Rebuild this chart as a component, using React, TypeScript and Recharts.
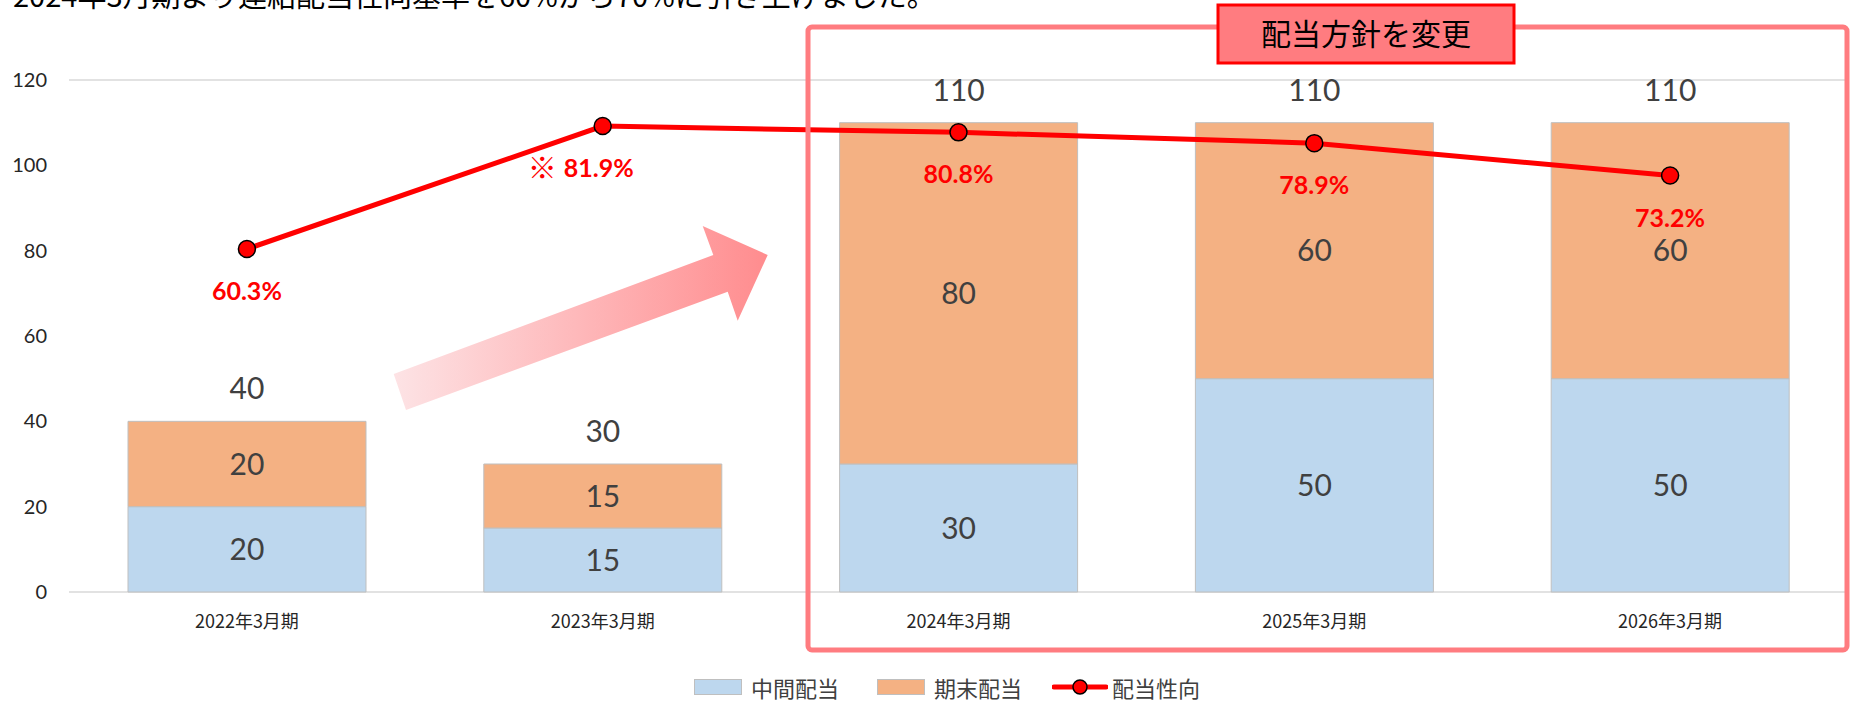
import {
  Bar,
  CartesianGrid,
  ComposedChart,
  LabelList,
  Line,
  XAxis,
  YAxis,
} from "recharts";

const PERIODS = ["2022年3月期", "2023年3月期", "2024年3月期", "2025年3月期", "2026年3月期"];
const INTERIM = [20, 15, 30, 50, 50];
const YEAR_END = [20, 15, 80, 60, 60];
const TOTALS = [40, 30, 110, 110, 110];
const PAYOUT = [60.3, 81.9, 80.8, 78.9, 73.2];
const Y_TICKS = [0, 20, 40, 60, 80, 100, 120];

const W = 1854;
const H = 701;
const LABEL_FONT = "Lato, 'Noto Sans CJK JP', sans-serif";
const JP_FONT = "'Noto Sans CJK JP', sans-serif";

const data = PERIODS.map((period, i) => ({
  period,
  interim: INTERIM[i],
  yearEnd: YEAR_END[i],
  total: TOTALS[i],
  payout: PAYOUT[i],
}));

function TotalLabel(props: any) {
  const { x, y, width, index } = props;
  return (
    <text
      x={x + width / 2}
      y={y - 34}
      textAnchor="middle"
      dominantBaseline="central"
      fill="#404040"
      fontSize={30}
      fontFamily={LABEL_FONT}
    >
      {TOTALS[index]}
    </text>
  );
}

function PayoutLabel(props: any) {
  const { x, y, value, index } = props;
  const note = index === 1;
  return (
    <text
      x={x + (note ? -22 : 0)}
      y={y + 41}
      textAnchor="middle"
      dominantBaseline="central"
      fill="#FF0000"
      fontSize={25}
      fontWeight={700}
      fontFamily={LABEL_FONT}
    >
      {note ? <tspan fontSize={29}>※ </tspan> : null}
      {Number(value).toFixed(1)}%
    </text>
  );
}

function ChartLegend() {
  const item = { display: "flex", alignItems: "center", position: "absolute" as const, top: 674 };
  const text = { fontFamily: JP_FONT, fontSize: 22, color: "#404040", lineHeight: "26px" };
  const swatch = (bg: string) => ({
    width: 48,
    height: 16,
    background: bg,
    border: "1.5px solid #BFBFBF",
    boxSizing: "border-box" as const,
    marginRight: 9,
  });
  return (
    <>
      <div style={{ ...item, left: 694 }}>
        <span style={swatch("#BDD7EE")} />
        <span style={text}>中間配当</span>
      </div>
      <div style={{ ...item, left: 877 }}>
        <span style={swatch("#F4B183")} />
        <span style={text}>期末配当</span>
      </div>
      <div style={{ ...item, left: 1052 }}>
        <svg width={56} height={20} style={{ marginRight: 4 }}>
          <line x1={2} y1={10} x2={54} y2={10} stroke="#FF0000" strokeWidth={5} strokeLinecap="round" />
          <circle cx={28} cy={10} r={7} fill="#FF0000" stroke="#000" strokeWidth={1.5} />
        </svg>
        <span style={text}>配当性向</span>
      </div>
    </>
  );
}

function Overlay() {
  return (
    <svg
      width={W}
      height={H}
      style={{ position: "absolute", left: 0, top: 0, pointerEvents: "none" }}
    >
      <defs>
        <linearGradient id="arrowFill" x1="0" y1="0" x2="1" y2="0">
          <stop offset="0%" stopColor="#FDE3E5" />
          <stop offset="100%" stopColor="#FF8C8E" />
        </linearGradient>
      </defs>
      <text x={13} y={7} fontSize={29} fontFamily={JP_FONT} fill="#000">
        2024年3月期より連結配当性向基準を60%から70%に引き上げました。
      </text>
      <polygon
        points="393.7,374 713.3,255 702.7,226 767.7,255 737.7,320.7 727.7,291.7 406,410"
        fill="url(#arrowFill)"
      />
      <rect x={808} y={27} width={1039} height={623} rx={4} fill="none" stroke="#FF7C80" strokeWidth={5} />
      <rect x={1218} y={5} width={296} height={58} fill="#FF7C80" stroke="#FF0000" strokeWidth={3} />
      <text
        x={1366}
        y={32}
        textAnchor="middle"
        dominantBaseline="central"
        fontSize={30}
        fontFamily={JP_FONT}
        fill="#000"
      >
        配当方針を変更
      </text>
    </svg>
  );
}

export default function App() {
  return (
    <div style={{ position: "absolute", left: 0, top: 0, width: W, height: H, background: "#fff" }}>
      <ComposedChart
        width={W}
        height={H}
        data={data}
        margin={{ top: 80, right: 6, left: 0, bottom: 69 }}
      >
        <CartesianGrid vertical={false} stroke="#D9D9D9" strokeWidth={1.5} />
        <XAxis
          dataKey="period"
          axisLine={false}
          tickLine={false}
          tickSize={0}
          tickMargin={23}
          height={40}
          interval={0}
          tick={{ fontSize: 18, fill: "#262626", fontFamily: JP_FONT }}
        />
        <YAxis
          yAxisId="amount"
          domain={[0, 120]}
          ticks={Y_TICKS}
          width={69}
          axisLine={false}
          tickLine={false}
          tickSize={0}
          tickMargin={22}
          tick={{ fontSize: 20, fill: "#262626", fontFamily: LABEL_FONT }}
        />
        <YAxis yAxisId="ratio" orientation="right" domain={[0, 90]} hide />
        <Bar
          yAxisId="amount"
          dataKey="interim"
          stackId="div"
          fill="#BDD7EE"
          stroke="#BFBFBF"
          strokeWidth={1}
          barSize={238}
          isAnimationActive={false}
        >
          <LabelList
            dataKey="interim"
            position="center"
            fill="#404040"
            fontSize={30}
            fontFamily={LABEL_FONT}
          />
        </Bar>
        <Bar
          yAxisId="amount"
          dataKey="yearEnd"
          stackId="div"
          fill="#F4B183"
          stroke="#BFBFBF"
          strokeWidth={1}
          barSize={238}
          isAnimationActive={false}
        >
          <LabelList
            dataKey="yearEnd"
            position="center"
            fill="#404040"
            fontSize={30}
            fontFamily={LABEL_FONT}
          />
          <LabelList dataKey="total" content={<TotalLabel />} />
        </Bar>
        <Line
          yAxisId="ratio"
          dataKey="payout"
          stroke="#FF0000"
          strokeWidth={5}
          dot={{ r: 8.5, fill: "#FF0000", stroke: "#000", strokeWidth: 1.5 }}
          isAnimationActive={false}
        >
          <LabelList dataKey="payout" content={<PayoutLabel />} />
        </Line>
      </ComposedChart>
      <Overlay />
      <ChartLegend />
    </div>
  );
}
